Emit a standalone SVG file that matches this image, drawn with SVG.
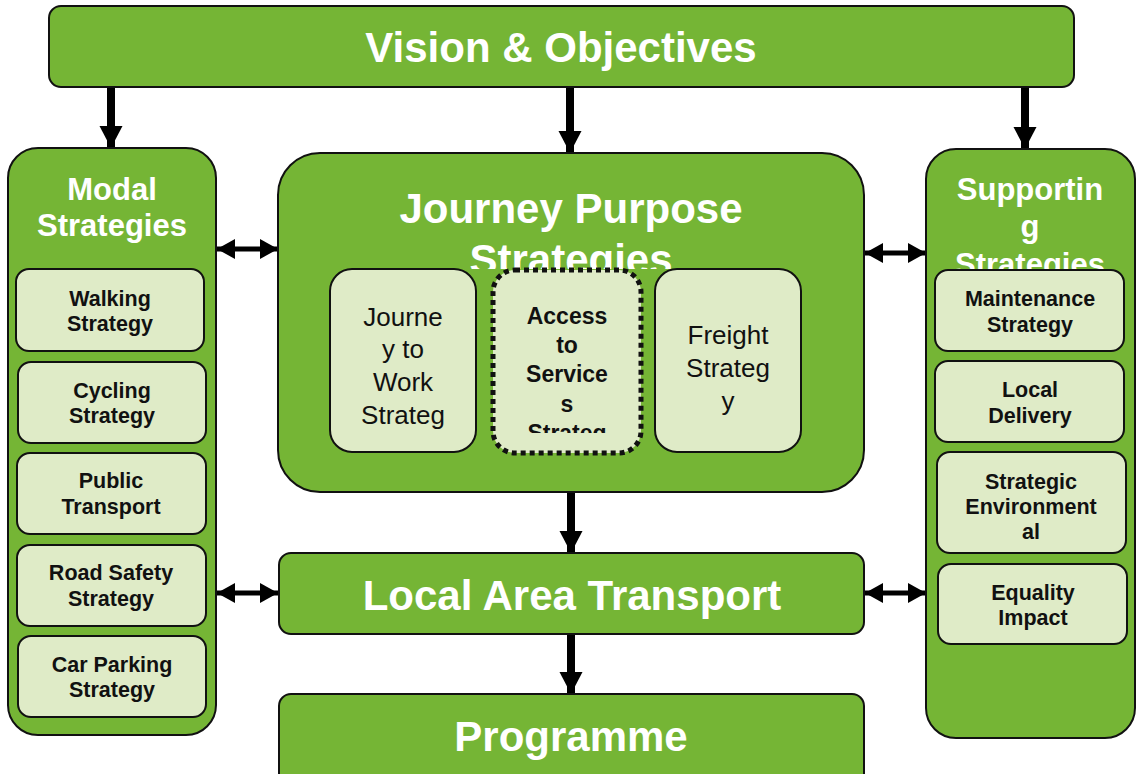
<svg xmlns="http://www.w3.org/2000/svg" width="1138" height="774" viewBox="0 0 1138 774">
  <style>
    .main { fill: #75b535; stroke: #111; stroke-width: 2; }
    .sub { fill: #dfebc7; stroke: #111; stroke-width: 2; }
    .dotted { fill: #dfebc7; stroke: #111; stroke-width: 5; stroke-dasharray: 5 4; }
    .head { font-family: "Liberation Sans", Arial, sans-serif; font-weight: bold; font-size: 42px; fill: #fff; text-anchor: middle; }
    .colhead { font-family: "Liberation Sans", Arial, sans-serif; font-weight: bold; font-size: 31px; fill: #fff; text-anchor: middle; }
    .item { font-family: "Liberation Sans", Arial, sans-serif; font-weight: bold; font-size: 21.5px; fill: #111; text-anchor: middle; }
    .plain { font-family: "Liberation Sans", Arial, sans-serif; font-size: 26px; fill: #111; text-anchor: middle; }
    .bolditem { font-family: "Liberation Sans", Arial, sans-serif; font-weight: bold; font-size: 23px; fill: #111; text-anchor: middle; }
    .conn { stroke: #000; fill: none; }
    .down { stroke-width: 8; marker-end: url(#bigHead); }
    .both { stroke-width: 5; marker-start: url(#smallHead); marker-end: url(#smallHead); }
  </style>
  <defs>
    <marker id="bigHead" markerUnits="userSpaceOnUse" markerWidth="22" markerHeight="24" refX="22" refY="12" orient="auto">
      <path d="M0,0.5 L22,12 L0,23.5 Z" fill="#000"/>
    </marker>
    <marker id="smallHead" markerUnits="userSpaceOnUse" markerWidth="18" markerHeight="20" refX="18" refY="10" orient="auto-start-reverse">
      <path d="M0,0 L18,10 L0,20 Z" fill="#000"/>
    </marker>
    <clipPath id="clipJP"><rect x="278" y="150" width="586" height="119"/></clipPath>
    <clipPath id="clipSup"><rect x="926" y="148" width="210" height="122"/></clipPath>
    <clipPath id="clipAccess"><rect x="492" y="268" width="151" height="165"/></clipPath>
  </defs>

  <!-- connectors -->
  <g id="connectors" class="conn">
    <line class="down" x1="111" y1="87" x2="111" y2="148"/>
    <line class="down" x1="570" y1="87" x2="570" y2="153"/>
    <line class="down" x1="1025" y1="87" x2="1025" y2="149"/>
    <line class="down" x1="571" y1="492" x2="571" y2="553"/>
    <line class="down" x1="571" y1="634" x2="571" y2="694"/>
    <line class="both" x1="217" y1="249" x2="278" y2="249"/>
    <line class="both" x1="865" y1="253" x2="926" y2="253"/>
    <line class="both" x1="217" y1="593" x2="278" y2="593"/>
    <line class="both" x1="865" y1="593" x2="926" y2="593"/>
  </g>

  <!-- top banner -->
  <g id="vision">
    <rect class="main" x="49" y="6" width="1025" height="81" rx="12"/>
    <text class="head" x="561" y="62">Vision &amp; Objectives</text>
  </g>

  <!-- left column -->
  <g id="modal">
    <rect class="main" x="8" y="148" width="208" height="587" rx="30"/>
    <text class="colhead" x="112" y="200">Modal</text>
    <text class="colhead" x="112" y="236">Strategies</text>
  </g>
  <g id="walking">
    <rect class="sub" x="16" y="269" width="188" height="82" rx="13"/>
    <text class="item" x="110" y="306">Walking</text>
    <text class="item" x="110" y="331">Strategy</text>
  </g>
  <g id="cycling">
    <rect class="sub" x="18" y="362" width="188" height="81" rx="13"/>
    <text class="item" x="112" y="398">Cycling</text>
    <text class="item" x="112" y="423">Strategy</text>
  </g>
  <g id="public-transport">
    <rect class="sub" x="17" y="453" width="189" height="81" rx="13"/>
    <text class="item" x="111" y="488">Public</text>
    <text class="item" x="111" y="514">Transport</text>
  </g>
  <g id="road-safety">
    <rect class="sub" x="17" y="545" width="189" height="81" rx="13"/>
    <text class="item" x="111" y="580">Road Safety</text>
    <text class="item" x="111" y="606">Strategy</text>
  </g>
  <g id="car-parking">
    <rect class="sub" x="18" y="636" width="188" height="81" rx="13"/>
    <text class="item" x="112" y="672">Car Parking</text>
    <text class="item" x="112" y="697">Strategy</text>
  </g>

  <!-- centre block -->
  <g id="journey-purpose">
    <rect class="main" x="278" y="153" width="586" height="339" rx="42"/>
    <g clip-path="url(#clipJP)">
      <text class="head" x="571" y="223">Journey Purpose</text>
      <text class="head" x="571" y="274">Strategies</text>
    </g>
  </g>
  <g id="journey-to-work">
    <rect class="sub" x="330" y="269" width="146" height="183" rx="22"/>
    <text class="plain" x="403" y="326">Journe</text>
    <text class="plain" x="403" y="358">y to</text>
    <text class="plain" x="403" y="391">Work</text>
    <text class="plain" x="403" y="424">Strateg</text>
  </g>
  <g id="access-to-services">
    <rect class="dotted" x="493" y="270" width="148" height="183" rx="22"/>
    <g clip-path="url(#clipAccess)">
      <text class="bolditem" x="567" y="324">Access</text>
      <text class="bolditem" x="567" y="353">to</text>
      <text class="bolditem" x="567" y="382">Service</text>
      <text class="bolditem" x="567" y="412">s</text>
      <text class="bolditem" x="567" y="441">Strateg</text>
    </g>
  </g>
  <g id="freight">
    <rect class="sub" x="655" y="269" width="146" height="183" rx="22"/>
    <text class="plain" x="728" y="344">Freight</text>
    <text class="plain" x="728" y="377">Strateg</text>
    <text class="plain" x="728" y="410">y</text>
  </g>

  <g id="local-area-transport">
    <rect class="main" x="279" y="553" width="585" height="81" rx="12"/>
    <text class="head" x="572" y="610">Local Area Transport</text>
  </g>
  <g id="programme">
    <rect class="main" x="279" y="694" width="585" height="100" rx="12"/>
    <text class="head" x="571" y="751">Programme</text>
  </g>

  <!-- right column -->
  <g id="supporting">
    <rect class="main" x="926" y="149" width="209" height="589" rx="30"/>
    <g clip-path="url(#clipSup)">
      <text class="colhead" x="1030" y="200">Supportin</text>
      <text class="colhead" x="1030" y="237">g</text>
      <text class="colhead" x="1030" y="275">Strategies</text>
    </g>
  </g>
  <g id="maintenance">
    <rect class="sub" x="935" y="270" width="189" height="81" rx="13"/>
    <text class="item" x="1030" y="306">Maintenance</text>
    <text class="item" x="1030" y="332">Strategy</text>
  </g>
  <g id="local-delivery">
    <rect class="sub" x="935" y="361" width="189" height="81" rx="13"/>
    <text class="item" x="1030" y="397">Local</text>
    <text class="item" x="1030" y="423">Delivery</text>
  </g>
  <g id="strategic-environmental">
    <rect class="sub" x="937" y="452" width="189" height="101" rx="13"/>
    <text class="item" x="1031" y="489">Strategic</text>
    <text class="item" x="1031" y="514">Environment</text>
    <text class="item" x="1031" y="539">al</text>
  </g>
  <g id="equality-impact">
    <rect class="sub" x="938" y="564" width="189" height="80" rx="13"/>
    <text class="item" x="1033" y="600">Equality</text>
    <text class="item" x="1033" y="625">Impact</text>
  </g>
</svg>
